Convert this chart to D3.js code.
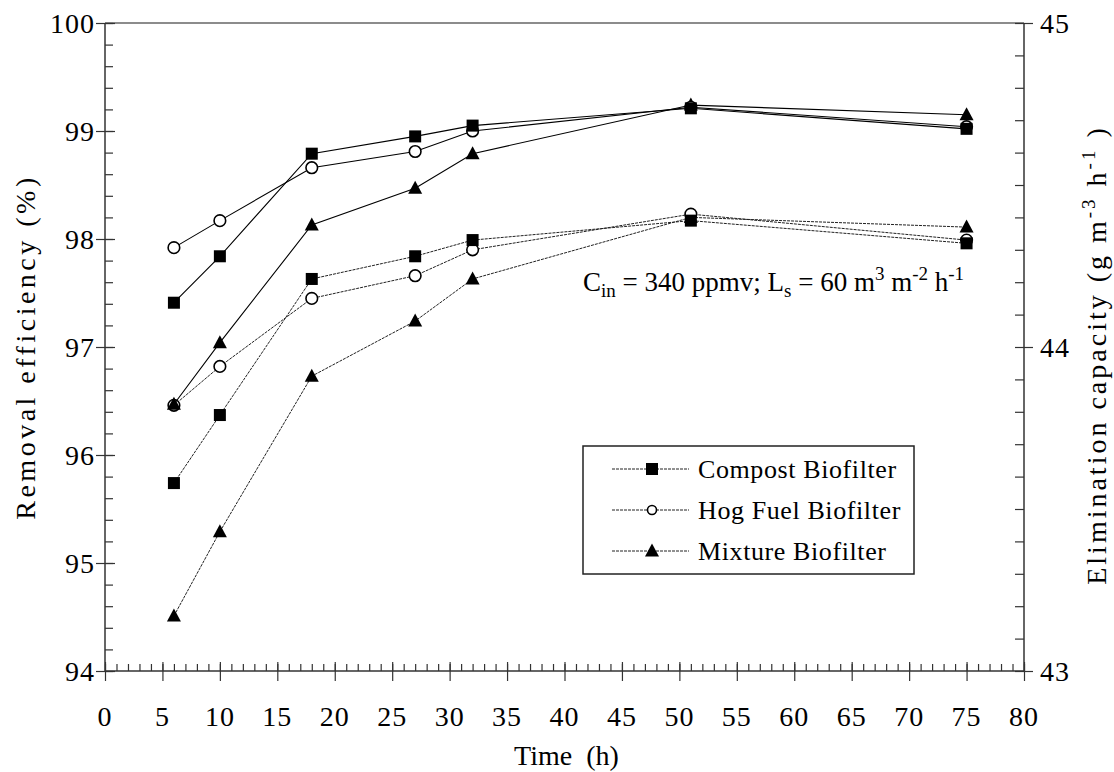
<!DOCTYPE html>
<html>
<head>
<meta charset="utf-8">
<script src="https://cdn.jsdelivr.net/npm/d3@7"></script>
<style>
  html, body { margin: 0; padding: 0; background: #fff; }
  svg text { font-family: "Liberation Serif", "Times New Roman", serif; fill: #000; }
</style>
</head>
<body>
<svg id="chart" width="1114" height="772"></svg>
<script>
// Sampling times (h)
const time = [6, 10, 18, 27, 32, 51, 75];

// Removal efficiency (%) - left axis, solid lines
const reCompost = [97.41, 97.84, 98.79, 98.95, 99.05, 99.21, 99.02];
const reHog     = [97.92, 98.17, 98.66, 98.81, 99.00, 99.22, 99.04];
const reMixture = [96.47, 97.04, 98.13, 98.47, 98.79, 99.24, 99.15];

// Elimination capacity (g m-3 h-1) - right axis, dashed lines
const ecCompost = [43.58, 43.79, 44.21, 44.28, 44.33, 44.39, 44.32];
const ecHog     = [43.82, 43.94, 44.15, 44.22, 44.30, 44.41, 44.33];
const ecMixture = [43.17, 43.43, 43.91, 44.08, 44.21, 44.40, 44.37];

const seriesNames = ["Compost Biofilter", "Hog Fuel Biofilter", "Mixture Biofilter"];
const markerKinds = ["square", "circle", "triangle"];

const xTicks = d3.range(0, 81, 5);
const yLeftTicks = [94, 95, 96, 97, 98, 99, 100];
const yRightTicks = [43, 44, 45];

const svg = d3.select("#chart");
const L = 105, R = 1024, T = 23, B = 671;

const x = d3.scaleLinear().domain([0, 80]).range([L, R]);
const yL = d3.scaleLinear().domain([94, 100]).range([B, T]);
const yR = d3.scaleLinear().domain([43, 45]).range([B, T]);

const axisColor = "#333";
const tickFont = 28;
const titleFont = 28;

// frame: top border
svg.append("line").attr("x1", L).attr("x2", R).attr("y1", T).attr("y2", T)
  .attr("stroke", "#666").attr("stroke-width", 1.5);

// left axis: minor ticks inward, major ticks crossing
const gL = svg.append("g").attr("transform", `translate(${L},0)`);
gL.call(d3.axisRight(yL).tickValues(d3.range(94, 100.001, 0.2)).tickSize(8).tickFormat(""));
gL.append("g").call(d3.axisLeft(yL).tickValues(yLeftTicks).tickSize(9).tickFormat(""));
gL.append("g").call(d3.axisRight(yL).tickValues(yLeftTicks).tickSize(10).tickFormat(""));
gL.selectAll(".domain").remove();
gL.append("line").attr("y1", T).attr("y2", B).attr("stroke", axisColor).attr("stroke-width", 1.5);
gL.selectAll(".tick line").attr("stroke", axisColor).attr("stroke-width", 1.2);
gL.selectAll(".ytl").data(yLeftTicks).enter().append("text")
  .attr("x", -10).attr("y", d => yL(d)).attr("dy", "0.35em")
  .attr("text-anchor", "end").attr("font-size", tickFont).attr("letter-spacing", 1).text(d => d);

// right axis
const gR = svg.append("g").attr("transform", `translate(${R},0)`);
gR.call(d3.axisLeft(yR).tickValues(d3.range(43, 45.001, 0.1)).tickSize(9).tickFormat(""));
gR.append("g").call(d3.axisRight(yR).tickValues(yRightTicks).tickSize(9).tickFormat(""));
gR.selectAll(".domain").remove();
gR.append("line").attr("y1", T).attr("y2", B).attr("stroke", axisColor).attr("stroke-width", 1.5);
gR.selectAll(".tick line").attr("stroke", axisColor).attr("stroke-width", 1.2);
gR.selectAll(".ytr").data(yRightTicks).enter().append("text")
  .attr("x", 16).attr("y", d => yR(d)).attr("dy", "0.35em")
  .attr("text-anchor", "start").attr("font-size", tickFont).attr("letter-spacing", 1).text(d => d);

// bottom axis: minor ticks every hour, major every 5 h crossing the line
const gB = svg.append("g").attr("transform", `translate(0,${B})`);
gB.call(d3.axisTop(x).tickValues(d3.range(0, 81, 1)).tickSize(7).tickFormat(""));
gB.append("g").call(d3.axisTop(x).tickValues(xTicks).tickSize(9).tickFormat(""));
gB.append("g").call(d3.axisBottom(x).tickValues(xTicks).tickSize(10).tickFormat(""));
gB.selectAll(".domain").remove();
gB.append("line").attr("x1", L).attr("x2", R).attr("stroke", axisColor).attr("stroke-width", 1.5);
gB.selectAll(".tick line").attr("stroke", axisColor).attr("stroke-width", 1.2);
gB.selectAll(".xtl").data(xTicks).enter().append("text")
  .attr("x", d => x(d)).attr("y", 55)
  .attr("text-anchor", "middle").attr("font-size", tickFont).attr("letter-spacing", 1).text(d => d);

// axis titles
svg.append("text").attr("x", x(40) + 2).attr("y", 765).attr("text-anchor", "middle")
  .attr("font-size", titleFont).attr("xml:space", "preserve").text("Time  (h)");

svg.append("text").attr("transform", `translate(35,${(T + B) / 2}) rotate(-90)`)
  .attr("text-anchor", "middle").attr("font-size", titleFont).attr("letter-spacing", 3.5)
  .text("Removal efficiency (%)");

const rt = svg.append("text").attr("transform", `translate(1106,${(T + B) / 2 + 8}) rotate(-90)`)
  .attr("text-anchor", "middle").attr("font-size", titleFont).attr("letter-spacing", 3)
  .attr("xml:space", "preserve");
rt.append("tspan").text("Elimination capacity (g m");
rt.append("tspan").attr("dy", -11).attr("font-size", 19).text("-3");
rt.append("tspan").attr("dy", 11).text(" h");
rt.append("tspan").attr("dy", -11).attr("font-size", 19).text("-1");
rt.append("tspan").attr("dy", 11).text(" )");

// markers
function drawMarker(g, kind, cx, cy) {
  if (kind === "square") {
    g.append("rect").attr("x", cx - 6).attr("y", cy - 6).attr("width", 12).attr("height", 12)
      .attr("fill", "#000");
  } else if (kind === "circle") {
    g.append("circle").attr("cx", cx).attr("cy", cy).attr("r", 5.8)
      .attr("fill", "#fff").attr("stroke", "#000").attr("stroke-width", 1.6);
  } else {
    g.append("path").attr("transform", `translate(${cx},${cy})`)
      .attr("d", "M0,-7.5L7,5.5L-7,5.5Z").attr("fill", "#000");
  }
}

function drawSeries(values, yScale, kind, dashed) {
  const pts = time.map((t, i) => [x(t), yScale(values[i])]);
  const g = svg.append("g");
  g.append("path").attr("d", d3.line()(pts)).attr("fill", "none")
    .attr("stroke", dashed ? "#222" : "#000").attr("stroke-width", dashed ? 1 : 1.1)
    .attr("stroke-dasharray", dashed ? "3,1" : null);
  pts.forEach(p => drawMarker(g, kind, p[0], p[1]));
}

drawSeries(ecMixture, yR, "triangle", true);
drawSeries(ecHog, yR, "circle", true);
drawSeries(ecCompost, yR, "square", true);
drawSeries(reMixture, yL, "triangle", false);
drawSeries(reHog, yL, "circle", false);
drawSeries(reCompost, yL, "square", false);

// operating conditions note
const note = svg.append("text").attr("x", 583).attr("y", 291).attr("font-size", 27)
  .attr("xml:space", "preserve");
note.append("tspan").text("C");
note.append("tspan").attr("dy", 6).attr("font-size", 19).text("in");
note.append("tspan").attr("dy", -6).text(" = 340 ppmv; L");
note.append("tspan").attr("dy", 6).attr("font-size", 19).text("s");
note.append("tspan").attr("dy", -6).text(" = 60 m");
note.append("tspan").attr("dy", -11).attr("font-size", 19).text("3");
note.append("tspan").attr("dy", 11).text(" m");
note.append("tspan").attr("dy", -11).attr("font-size", 19).text("-2");
note.append("tspan").attr("dy", 11).text(" h");
note.append("tspan").attr("dy", -11).attr("font-size", 19).text("-1");

// legend
const lg = svg.append("g");
lg.append("rect").attr("x", 583).attr("y", 446).attr("width", 331).attr("height", 128)
  .attr("fill", "#fff").attr("stroke", "#222").attr("stroke-width", 1.5);
seriesNames.forEach((name, i) => {
  const yy = 469 + i * 41;
  lg.append("line").attr("x1", 612).attr("x2", 689).attr("y1", yy).attr("y2", yy)
    .attr("stroke", "#222").attr("stroke-width", 1).attr("stroke-dasharray", "3,1");
  const mk = lg.append("g");
  if (markerKinds[i] === "circle") {
    mk.append("circle").attr("cx", 652).attr("cy", yy).attr("r", 4.5)
      .attr("fill", "#fff").attr("stroke", "#000").attr("stroke-width", 1.6);
  } else if (markerKinds[i] === "square") {
    mk.append("rect").attr("x", 646).attr("y", yy - 6).attr("width", 12).attr("height", 12).attr("fill", "#000");
  } else {
    mk.append("path").attr("transform", `translate(652,${yy})`)
      .attr("d", "M0,-7.5L7,5.5L-7,5.5Z").attr("fill", "#000");
  }
  lg.append("text").attr("x", 698).attr("y", yy).attr("dy", "0.35em")
    .attr("font-size", 26).attr("letter-spacing", 0.6).text(name);
});
</script>
</body>
</html>
